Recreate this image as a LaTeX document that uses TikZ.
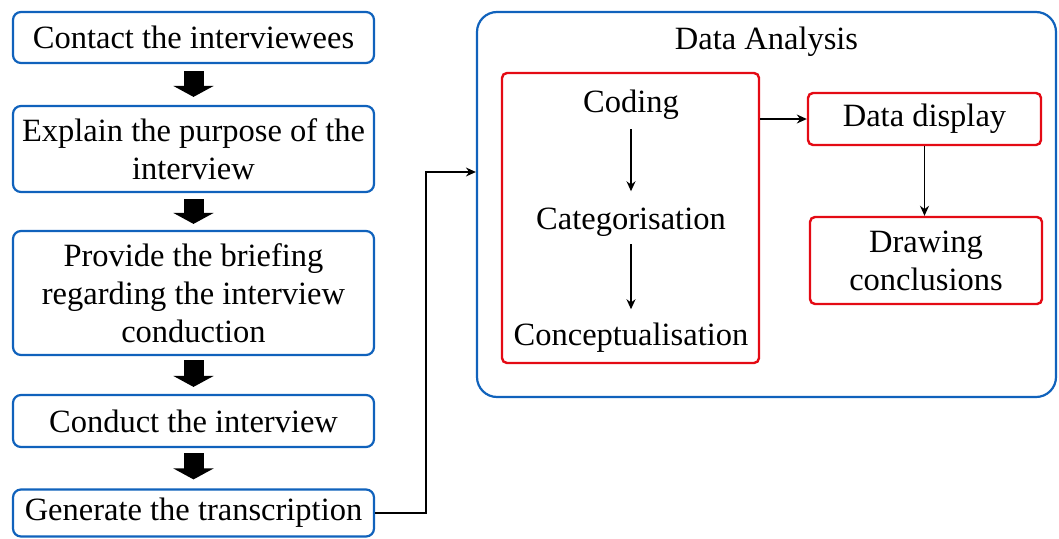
\documentclass[tikz,border=0pt]{standalone}
\usepackage{fontspec}
\setmainfont{Liberation Serif}
\usetikzlibrary{arrows.meta}
\definecolor{boxblue}{RGB}{16,98,188}
\definecolor{boxred}{RGB}{228,10,20}
\begin{document}
\begin{tikzpicture}[x=1pt,y=-1pt,
  every node/.style={font=\fontsize{32.5}{38}\selectfont, inner sep=0pt, align=center},
  stepbox/.style={draw=boxblue, line width=2.2pt, rounded corners=8pt, minimum width=361pt},
  bigbox/.style={draw=boxblue, line width=2.2pt, rounded corners=20pt},
  redbox/.style={draw=boxred, line width=2.4pt, rounded corners=5pt},
  blockarrow/.style={line width=20pt, -{Triangle[width=40pt,length=11pt]}},
  conn/.style={line width=1.4pt, -{Stealth[length=10pt,width=9pt]}}]
\useasboundingbox (0,0) rectangle (1059,538);
% left column
\node[stepbox, minimum height=51pt]  (b1) at (193.5,37.5) {Contact the interviewees};
\node[stepbox, minimum height=86pt]  (b2) at (193.5,149)  {Explain the purpose of the\\interview};
\node[stepbox, minimum height=124pt] (b3) at (193.5,293)  {Provide the briefing\\regarding the interview\\conduction};
\node[stepbox, minimum height=52pt]  (b4) at (193.5,421)  {Conduct the interview};
\node[stepbox, minimum height=47pt]  (b5) at (193.5,513)  {Generate the transcription};
\draw[blockarrow] ([yshift=-7pt]b1.south) -- ([yshift=8pt]b2.north);
\draw[blockarrow] ([yshift=-6pt]b2.south) -- ([yshift=6pt]b3.north);
\draw[blockarrow] ([yshift=-4pt]b3.south) -- ([yshift=7pt]b4.north);
\draw[blockarrow] ([yshift=-5pt]b4.south) -- ([yshift=9pt]b5.north);
% data analysis
\node[bigbox, minimum width=579pt, minimum height=385pt] (big) at (766.5,204.5) {};
\node[anchor=base] (title) at (766.5,49) {Data Analysis};
\node[redbox, minimum width=257pt, minimum height=290pt] (rb) at (630.5,218) {};
\node[anchor=base] (cod) at (631,112) {Coding};
\node[anchor=base] (cat) at (631,229) {Categorisation};
\node[anchor=base] (con) at (631,345) {Conceptualisation};
\draw[conn] ([yshift=-10pt]cod.south) -- ([yshift=16pt]cat.north);
\draw[conn] ([yshift=-8pt]cat.south) -- ([yshift=13pt]con.north);
\node[redbox, minimum width=233pt, minimum height=52pt] (dd) at (924.5,119) {Data display};
\node[redbox, minimum width=232pt, minimum height=87pt] (dc) at (926,260.5) {Drawing\\conclusions};
\draw[conn] (rb.east |- dd.west) -- (dd.west);
\draw[conn] (dd.south) -- (dd.south |- dc.north);
% connector from left column
\coordinate (turn) at (426,172);
\draw[conn] (b5.east) -| (turn) -- (big.west |- turn);
\end{tikzpicture}
\end{document}
